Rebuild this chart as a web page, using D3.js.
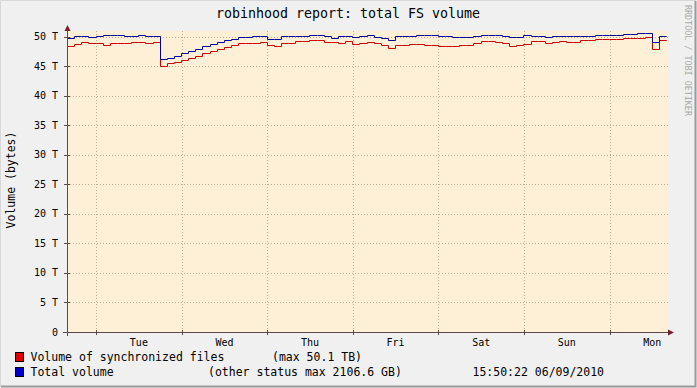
<!DOCTYPE html>
<html>
<head>
<meta charset="utf-8">
<title>robinhood report: total FS volume</title>
<script src="https://cdn.jsdelivr.net/npm/d3@7"></script>
<style>
  body { margin: 0; background: #f0f0f0; }
  svg text { font-family: "DejaVu Sans Mono", monospace; fill: #000; }
  .grid line { stroke: #c4ac90; stroke-dasharray: 1,2; shape-rendering: crispEdges; }
  .line { fill: none; stroke-width: 1px; stroke-linejoin: miter; stroke-linecap: square; }
  .axis { stroke: #5a4a4a; shape-rendering: crispEdges; }
</style>
</head>
<body>
<svg width="697" height="388"></svg>
<script>
  // values in TB, one sample every 2 hours over the week
  var synced = [
    48.4, 48.8, 49.2, 49.0, 48.9, 48.6, 48.9, 49.0, 49.0, 49.1, 49.2, 49.0, 49.2,
    45.1, 45.5, 45.8, 46.1, 46.5, 46.8, 47.2, 47.6, 48.0, 48.3, 48.7, 48.9, 49.0,
    48.9, 49.2, 48.6, 48.5, 48.9, 49.0, 49.3, 49.3, 49.5, 49.4, 49.2, 49.1, 49.0,
    49.3, 48.8, 49.0, 49.2, 48.9, 48.6, 48.1, 48.6, 48.6, 48.8, 48.8, 48.7, 48.6,
    48.5, 48.4, 48.5, 48.7, 48.6, 48.9, 49.3, 49.3, 49.2, 49.0, 48.4, 48.6, 48.8,
    49.3, 49.3, 49.0, 49.2, 49.3, 49.2, 49.2, 49.5, 49.5, 49.6, 49.6, 49.7, 49.7,
    49.8, 49.8, 49.8, 50.0, 48.0, 49.4
  ]
  var total = [
    49.8, 50.1, 50.2, 49.9, 50.2, 50.3, 50.3, 50.3, 50.2, 50.2, 50.3, 50.2, 50.2,
    46.2, 46.5, 46.8, 47.2, 47.6, 48.0, 48.4, 48.8, 49.2, 49.5, 49.7, 49.9, 50.0,
    50.1, 50.2, 49.7, 49.6, 50.1, 50.2, 50.1, 50.1, 50.3, 50.3, 50.1, 49.8, 50.2,
    50.2, 50.0, 50.2, 50.3, 49.9, 49.8, 49.4, 50.1, 50.1, 50.2, 50.3, 50.3, 50.3,
    50.2, 50.1, 50.0, 49.9, 49.9, 50.2, 50.4, 50.4, 50.4, 50.2, 49.9, 50.0, 50.3,
    50.2, 50.1, 49.9, 50.1, 50.2, 50.1, 50.1, 50.2, 50.2, 50.3, 50.3, 50.4, 50.4,
    50.5, 50.5, 50.6, 50.6, 49.2, 50.2
  ]
  var yTicks = [0, 5, 10, 15, 20, 25, 30, 35, 40, 45, 50]
  var yTickLabels = ['0', '5 T', '10 T', '15 T', '20 T', '25 T', '30 T', '35 T', '40 T', '45 T', '50 T']
  var legendNames = ['Volume of synchronized files', 'Total volume']
  var legendNotes = ['(max 50.1 TB)', '(other status max 2106.6 GB)']
  var stamp = '15:50:22 06/09/2010'
  var colors = ['#cc0000', '#0000a0']
  var boxColors = ['#dd0000', '#0000cc']

  var endTime = new Date(2010, 8, 6, 15, 50, 22)
  var startTime = d3.timeDay.offset(endTime, -7)
  var stepMs = 2 * 3600 * 1000

  function toPoints(vals) {
    var pts = vals.map(function(v, i) {
      return { t: new Date(startTime.getTime() + i * stepMs), v: v }
    })
    pts.push({ t: endTime, v: vals[vals.length - 1] })
    return pts
  }

  var svg = d3.select('svg')

  // frame
  svg.append('rect').attr('width', 697).attr('height', 388).attr('fill', '#f0f0f0')
  svg.append('path').attr('d', 'M0.5,387 V0.5 H696').attr('stroke', '#d8d8d8').attr('fill', 'none')
  svg.append('path').attr('d', 'M1,386.5 H695.5 V1').attr('stroke', '#9a9a9a').attr('stroke-width', 2).attr('fill', 'none')

  var x = d3.scaleTime().domain([startTime, endTime]).range([67, 666])
  var y = d3.scaleLinear().domain([0, 51]).range([332, 31])

  // canvas
  svg.append('rect')
    .attr('x', 67).attr('y', 31)
    .attr('width', 600).attr('height', 301)
    .attr('fill', '#fef0d6')

  var days = d3.timeDay.range(d3.timeDay.ceil(startTime), endTime)
  var grid = svg.append('g').classed('grid', true)

  grid.selectAll('line.h')
    .data(yTicks.slice(1))
    .enter().append('line')
    .attr('x1', 67).attr('x2', 670)
    .attr('y1', function(d) { return Math.round(y(d)) + 0.5 })
    .attr('y2', function(d) { return Math.round(y(d)) + 0.5 })

  grid.selectAll('line.v')
    .data(days)
    .enter().append('line')
    .attr('x1', function(d) { return Math.round(x(d)) + 0.5 })
    .attr('x2', function(d) { return Math.round(x(d)) + 0.5 })
    .attr('y1', 31).attr('y2', 332)

  // series
  var line = d3.line()
    .x(function(d) { return Math.round(x(d.t)) + 0.5 })
    .y(function(d) { return Math.round(y(d.v)) + 0.5 })
    .curve(d3.curveStepAfter)

  ;[synced, total].forEach(function(vals, i) {
    svg.append('path')
      .classed('line', true)
      .attr('stroke', colors[i])
      .attr('d', line(toPoints(vals)))
  })

  // axes
  svg.append('line').classed('axis', true)
    .attr('x1', 67.5).attr('x2', 67.5).attr('y1', 336).attr('y2', 30)
  svg.append('line').classed('axis', true)
    .attr('x1', 63).attr('x2', 670).attr('y1', 332.5).attr('y2', 332.5)
  svg.append('path').attr('fill', '#7a1f2a')
    .attr('d', 'M67.5,25 L64.5,31 L70.5,31 Z')
  svg.append('path').attr('fill', '#7a1f2a')
    .attr('d', 'M674,332.5 L668,329.5 L668,335.5 Z')

  svg.selectAll('line.ytick')
    .data(yTicks)
    .enter().append('line').classed('axis', true)
    .attr('x1', 64).attr('x2', 70)
    .attr('y1', function(d) { return Math.round(y(d)) + 0.5 })
    .attr('y2', function(d) { return Math.round(y(d)) + 0.5 })

  svg.selectAll('line.xtick')
    .data(days)
    .enter().append('line').classed('axis', true)
    .attr('x1', function(d) { return Math.round(x(d)) + 0.5 })
    .attr('x2', function(d) { return Math.round(x(d)) + 0.5 })
    .attr('y1', 330).attr('y2', 335)

  svg.selectAll('text.ylab')
    .data(yTicks)
    .enter().append('text')
    .attr('x', 58)
    .attr('y', function(d) { return y(d) + 3.5 })
    .attr('text-anchor', 'end')
    .style('font-size', '10px')
    .text(function(d, i) { return yTickLabels[i] })

  var noons = days.map(function(d) { return d3.timeHour.offset(d, 12) })
    .filter(function(d) { return d < endTime })
  svg.selectAll('text.xlab')
    .data(noons)
    .enter().append('text')
    .attr('x', function(d) { return x(d) })
    .attr('y', 346)
    .attr('text-anchor', 'middle')
    .style('font-size', '10px')
    .text(d3.timeFormat('%a'))

  // titles
  svg.append('text')
    .attr('x', 348).attr('y', 18)
    .attr('text-anchor', 'middle')
    .style('font-size', '13.3px')
    .text('robinhood report: total FS volume')

  svg.append('text')
    .attr('transform', 'translate(15,180) rotate(-90)')
    .attr('text-anchor', 'middle')
    .style('font-size', '11.5px')
    .text('Volume (bytes)')

  svg.append('text')
    .attr('transform', 'translate(685,5) rotate(90)')
    .style('font-size', '8.4px')
    .style('fill', '#aaaaaa')
    .text('RRDTOOL / TOBI OETIKER')

  // legend
  var legendY = [361, 376]
  var noteX = [272, 208]
  legendNames.forEach(function(name, i) {
    svg.append('rect')
      .attr('x', 15.5).attr('y', legendY[i] - 8.5)
      .attr('width', 8).attr('height', 9)
      .attr('fill', boxColors[i])
      .attr('stroke', '#000')
    svg.append('text')
      .attr('x', 30.5).attr('y', legendY[i])
      .style('font-size', '11.5px')
      .text(name)
    svg.append('text')
      .attr('x', noteX[i]).attr('y', legendY[i])
      .style('font-size', '11.5px')
      .text(legendNotes[i])
  })
  svg.append('text')
    .attr('x', 472.5).attr('y', 376)
    .style('font-size', '11.5px')
    .text(stamp)
</script>
</body>
</html>
